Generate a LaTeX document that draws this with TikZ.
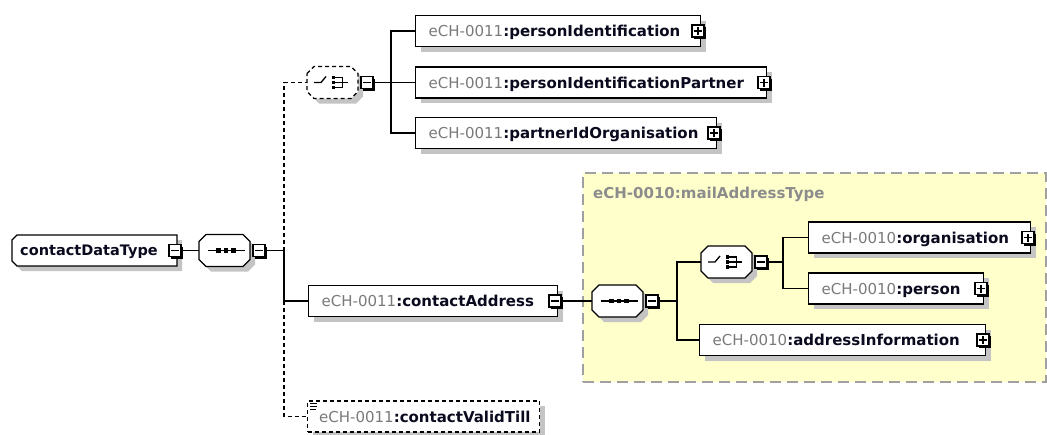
\documentclass[tikz,border=0pt]{standalone}
\usepackage{fontspec}
\setmainfont{DejaVu Sans}
\usetikzlibrary{shadows,calc}
\definecolor{pgray}{HTML}{7A7A7A}
\definecolor{lgray}{HTML}{8C8C8C}
\definecolor{shgray}{HTML}{C4C4C4}
\definecolor{mailbg}{HTML}{FFFFCC}
\definecolor{mailborder}{HTML}{A0A0A0}
\definecolor{nametext}{HTML}{0A0A1E}

\newcommand\xoctpath[2]{(#1-25.5,#2-9) -- (#1-18.5,#2-16) -- (#1+18.5,#2-16) -- (#1+25.5,#2-9) -- (#1+25.5,#2+9) -- (#1+18.5,#2+16) -- (#1-18.5,#2+16) -- (#1-25.5,#2+9) -- cycle}

\tikzset{
 conn/.style={line width=1.3pt, draw=black},
 dsh/.style={dash pattern=on 4pt off 3pt},
 ebox/.style={draw=black, fill=white, line width=1.3pt, minimum height=31pt, inner sep=0pt,
   drop shadow={shadow xshift=5pt, shadow yshift=-5pt, fill=shgray, opacity=1}},
 etext/.style={anchor=base west, inner sep=0pt, font=\fontsize{15}{18}\selectfont},
 sqbox/.style={draw=black, fill=white, line width=1.2pt, minimum size=12pt, inner sep=0pt,
   drop shadow={shadow xshift=2pt, shadow yshift=-2pt, fill=black, opacity=1}},
 pbox/.style={sqbox, path picture={
   \draw[line width=1.2pt] ([xshift=2pt]path picture bounding box.west) -- ([xshift=-2pt]path picture bounding box.east);
   \draw[line width=1.2pt] ([yshift=-2pt]path picture bounding box.north) -- ([yshift=2pt]path picture bounding box.south);}},
 mbox/.style={sqbox, path picture={
   \draw[line width=1.2pt] ([xshift=2pt]path picture bounding box.west) -- ([xshift=-2pt]path picture bounding box.east);}},
}

\newcommand\mkcomp[4]{%
 \fill[shgray] \xoctpath{#2+5}{#3+5};
 \filldraw[fill=white, draw=black, line width=1.3pt, #4] \xoctpath{#2}{#3};
 \node[inner sep=0pt, minimum width=51pt, minimum height=32pt] (#1) at (#2,#3) {};
 \node[mbox] (#1m) at (#2+34.5,#3) {};
}
\newcommand\seqicon[2]{%
 \draw[line width=1.3pt] (#1-17,#2) -- (#1+20,#2);
 \foreach \dx in {-6,1.5,9} {\fill (#1+\dx-2.2,#2-2.2) rectangle ++(4.4,4.4);}
}
\newcommand\choiceicon[2]{%
 \draw[line width=1.3pt] (#1-18.5,#2) -- (#1-11.5,#2) -- (#1-6.5,#2-6);
 \foreach \dy in {-5,0,5} {\fill (#1-0.8,#2+\dy-1.8) rectangle ++(3.6,3.6);}
 \draw[line width=1.3pt] (#1+2.5,#2-5) -| (#1+10,#2+5) -- (#1+2.5,#2+5);
 \draw[line width=1.3pt] (#1+2.5,#2) -- (#1+15,#2);
}
\newcommand\mkelem[8]{%
 \node[ebox, minimum width=#4pt, anchor=west, #7] (#1) at (#2,#3) {};
 \node[etext] (#1t) at (#2+13.5,#3+5.5) {\textcolor{pgray}{#5}\textcolor{nametext}{\textbf{:#6}}};
 \node[#8] (#1p) at (#2+#4-2,#3) {};
}

\begin{document}
\begin{tikzpicture}[x=1pt,y=-1pt]
\useasboundingbox (0,0) rectangle (1047,434);
\fill[white] (0,0) rectangle (1047,434);

% mailAddressType area
\node[draw=mailborder, fill=mailbg, line width=1.6pt, dash pattern=on 11pt off 6pt,
  minimum width=463pt, minimum height=209pt, anchor=north west, inner sep=0pt] (mat) at (582,172) {};
\node[anchor=base west, inner sep=0pt, font=\fontsize{15}{18}\selectfont\bfseries, text=lgray] (matl) at (593,198) {eCH-0010:mailAddressType};

% contactDataType
\fill[shgray] (22,240) -- (182,240) -- (182,271) -- (22,271) -- (17,266) -- (17,245) -- cycle;
\filldraw[fill=white, draw=black, line width=1.3pt] (17,235) -- (177,235) -- (177,266) -- (17,266) -- (12,261) -- (12,240) -- cycle;
\node[inner sep=0pt, minimum width=165pt, minimum height=31pt, anchor=west] (cdt) at (12,250.5) {};
\node[etext, font=\fontsize{14.5}{17}\selectfont\bfseries, text=nametext] (cdtt) at (20,255.5) {contactDataType};
\node[mbox] (cdtm) at (175,250.5) {};

% compositors
\mkcomp{seq1}{224.5}{250.5}{}
\seqicon{224.5}{250.5}
\mkcomp{ch1}{332.5}{82.5}{dsh}
\choiceicon{332.5}{82.5}
\mkcomp{seq2}{617.5}{301}{}
\seqicon{617.5}{301}
\mkcomp{ch2}{726.5}{262}{}
\choiceicon{726.5}{262}

% elements
\mkelem{pi}{415}{31}{285}{eCH-0011}{personIdentification}{}{pbox}
\mkelem{pip}{415}{82.5}{351}{eCH-0011}{personIdentificationPartner}{}{pbox}
\mkelem{pio}{415}{133}{301}{eCH-0011}{partnerIdOrganisation}{}{pbox}
\mkelem{ca}{308}{301}{249}{eCH-0011}{contactAddress}{}{mbox}
\mkelem{org}{808}{237.5}{222}{eCH-0010}{organisation}{}{pbox}
\mkelem{per}{808}{288.5}{175}{eCH-0010}{person}{}{pbox}
\mkelem{ai}{699}{340}{286}{eCH-0010}{addressInformation}{}{pbox}

% contactValidTill (optional, simple content)
\node[ebox, dsh, minimum width=232pt, anchor=west] (cvt) at (307,416.5) {};
\node[etext] (cvtt) at (319,422) {\textcolor{pgray}{eCH-0011}\textcolor{nametext}{\textbf{:contactValidTill}}};
\draw[line width=0.9pt] (310,403.5) -- (317,403.5) (310,406.5) -- (317,406.5) (310,409.5) -- (316,409.5);

% connectors
\coordinate (bar1) at (284,250.5);
\draw[conn] (cdtm.east) -- (seq1.west);
\draw[conn] (seq1m.east) -- (bar1);
\draw[conn,dsh] (bar1) |- (ch1.west);
\draw[conn] (bar1) |- (ca.west);
\draw[conn,dsh] (bar1 |- ca.west) |- (cvt.west);
\coordinate (bar2) at (391,82.5);
\draw[conn] (ch1m.east) -- (pip.west);
\draw[conn] (bar2) |- (pi.west);
\draw[conn] (bar2) |- (pio.west);
\draw[conn] (cap.east) -- (seq2.west);
\coordinate (bar3) at (677,301);
\draw[conn] (seq2m.east) -- (bar3);
\draw[conn] (bar3) |- (ch2.west);
\draw[conn] (bar3) |- (ai.west);
\coordinate (bar4) at (783,262);
\draw[conn] (ch2m.east) -- (bar4);
\draw[conn] (bar4) |- (org.west);
\draw[conn] (bar4) |- (per.west);
\end{tikzpicture}
\end{document}
